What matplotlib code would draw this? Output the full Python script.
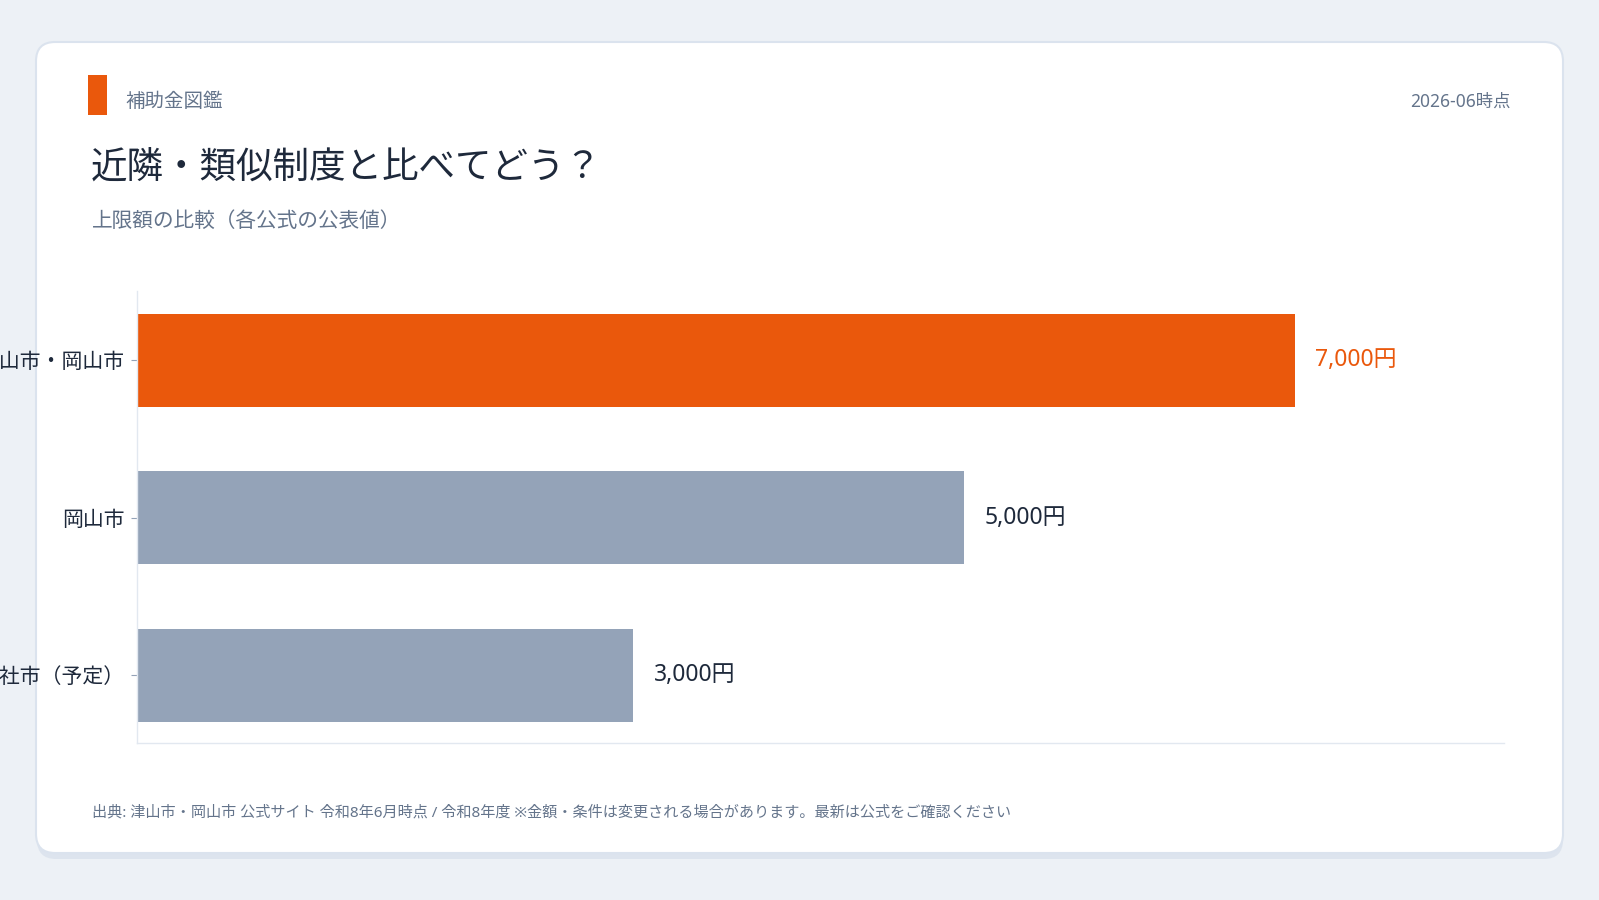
""" Upper-limit comparison card: nearby / similar subsidy programs. """
import matplotlib
matplotlib.use('Agg')
import matplotlib.pyplot as plt
from matplotlib.patches import FancyBboxPatch, Rectangle


# data
cities = ['津山市・岡山市', '岡山市', '総社市（予定）']
limits = [7000, 5000, 3000]
highlight = [True, False, False]
# text
brand = '補助金図鑑'
stamp = '2026-06時点'
title = '近隣・類似制度と比べてどう？'
subtitle = '上限額の比較（各公式の公表値）'
source = '出典: 津山市・岡山市 公式サイト 令和8年6月時点 / 令和8年度 ※金額・条件は変更される場合があります。最新は公式をご確認ください'
fout = 'out.png'
# fig config
W, H = 1599, 900
c_bg = '#edf1f6'
c_card = '#ffffff'
c_edge = '#dbe3ee'
c_orange = '#ea580c'
c_grey = '#94a3b8'
c_dark = '#1e293b'
c_muted = '#64748b'
c_axis = '#e2e8f0'

# latin glyphs from Noto Sans, kana/kanji from the CJK family
plt.rcParams['font.family'] = ['Noto Sans', 'Noto Sans CJK JP', 'DejaVu Sans']

fig = plt.figure(figsize=(W/100, H/100), dpi=100)
fig.patch.set_facecolor(c_bg)

def px(x, y):
    # pixel coords (from top-left) to figure fraction
    return x/W, 1-y/H

# card shadow and card, kept below the axes
shadow = FancyBboxPatch(px(37, 859), (1563-37)/W, (859-48)/H,
    boxstyle='round,pad=0,rounding_size=0.012', transform=fig.transFigure,
    facecolor='#dde4ee', edgecolor='none', zorder=-3, mutation_aspect=W/H)
fig.patches.append(shadow)
card = FancyBboxPatch(px(36, 853), (1563-36)/W, (853-42)/H,
    boxstyle='round,pad=0,rounding_size=0.012', transform=fig.transFigure,
    facecolor=c_card, edgecolor=c_edge, linewidth=1.5, zorder=-2, mutation_aspect=W/H)
fig.patches.append(card)
# brand mark
fig.patches.append(Rectangle(px(88, 115), 19/W, 40/H, transform=fig.transFigure,
    facecolor=c_orange, edgecolor='none', zorder=-1))

fig.text(*px(125, 102), brand, fontsize=14, color=c_muted, va='center', ha='left')
fig.text(*px(1511, 102), stamp, fontsize=12.5, color=c_muted, va='center', ha='right')
fig.text(*px(91, 169), title, fontsize=26.3, color=c_dark, va='center', ha='left')
fig.text(*px(92, 222), subtitle, fontsize=14.9, color=c_muted, va='center', ha='left')
fig.text(*px(92, 813), source, fontsize=10.9, color=c_muted, va='center', ha='left')

# chart
x0, y0 = px(137, 743)
x1, y1 = px(1504, 291)
ax = fig.add_axes([x0, y0, x1-x0, y1-y0])
ax.set_facecolor('none')
ypos = list(range(len(cities)))
colors = [c_orange if h else c_grey for h in highlight]
ax.barh(ypos, limits, height=0.59, color=colors, zorder=2)
xmax = max(limits)*1.18
for y, v, h in zip(ypos, limits, highlight):
    ax.text(v + xmax*0.0146, y, '{:,}円'.format(v), va='center', ha='left',
        fontsize=16.5, color=c_orange if h else c_dark)
ax.set_xlim(0, xmax)
ax.set_ylim(2.43, -0.44)
ax.set_yticks(ypos)
ax.set_yticklabels(cities, fontsize=15, color=c_dark)
ax.set_xticks([])
ax.tick_params(axis='y', length=4, color=c_grey, pad=5)
for side in ['top', 'right']:
    ax.spines[side].set_visible(False)
for side in ['left', 'bottom']:
    ax.spines[side].set_color(c_axis)
    ax.spines[side].set_linewidth(1)

fig.savefig(fout, dpi=100, facecolor=fig.get_facecolor())
